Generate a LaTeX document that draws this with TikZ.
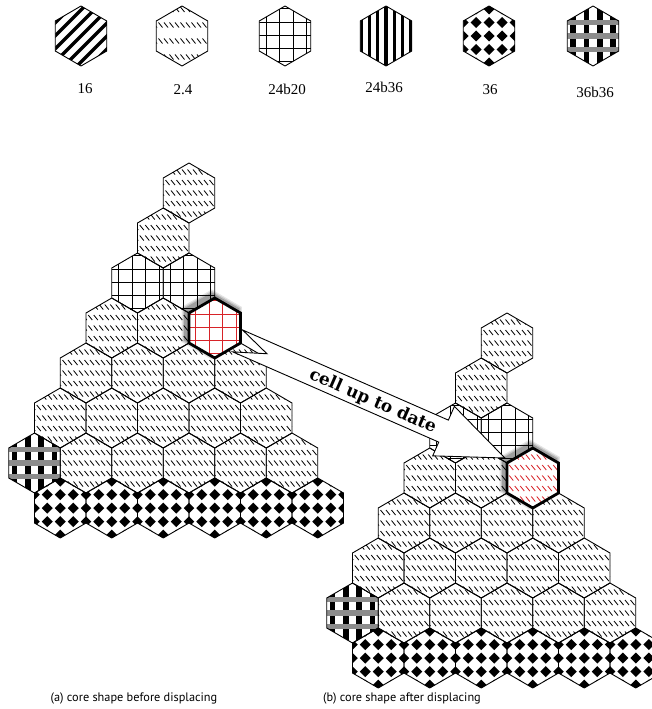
\documentclass[tikz,border=0pt]{standalone}
\usepackage{fontspec}
\setmainfont{Liberation Serif}
\newfontfamily\capfont{PT Sans}
\newfontfamily\arrfont{DejaVu Serif}
\usetikzlibrary{calc}
\definecolor{pred}{RGB}{215,35,40}

% pattern fills, in hexagon-local pixel coordinates (y down)
\newcommand\hexfilldash[1][black]{\foreach \yy in {-21,-10.5,0,10.5,21}{\foreach \xx in {-27,-21.5,...,28}{\draw[#1,line width=0.8pt] (\xx-2,\yy-2.5)--(\xx+2,\yy+2.5);}}}
\newcommand\hexfilldashL{\foreach \yy in {-26.5,-11,5,21}{\foreach \xx in {-27,-21.5,...,28}{\draw[line width=0.8pt] (\xx-2,\yy-2.5)--(\xx+2,\yy+2.5);}}}
\newcommand\hexfillgrid[1][black]{\foreach \xx in {-19,-5.5,8,21.5}{\draw[#1,line width=0.9pt] (\xx,-31)--(\xx,31);}\foreach \yy in {-27.5,-14,-1,12,25}{\draw[#1,line width=0.9pt] (-27,\yy)--(27,\yy);}}
\newcommand\hexfilldiam{\foreach \xx in {-26,-13,0,13,26}{\foreach \yy in {-27,-13.5,0,13.5,27}{\fill (\xx,\yy-5.5)--(\xx+5.5,\yy)--(\xx,\yy+5.5)--(\xx-5.5,\yy)--cycle;}}}
\newcommand\hexfillcheck{\foreach \xx in {-20,-6.7,6.7,20}{\fill (\xx-2.8,-31) rectangle (\xx+2.8,31);}\foreach \yy in {-13.5,0,13.5}{\fill[black!45] (-27,\yy-2.6) rectangle (27,\yy+2.6);}}
\newcommand\hexfilldiag{\foreach \s in {-52,-39,...,52}{\draw[line width=3.2pt] (\s-35,35)--(\s+35,-35);}}
\newcommand\hexfillvert{\foreach \xx in {-24.9,-16.6,...,26}{\fill (\xx-1.6,-31) rectangle (\xx+1.6,31);}}

\newcommand\hexcell[3]{\begin{scope}[shift={(#2,#3)}]\begin{scope}\path[clip,hexpath];\csname hexfill#1\endcsname\end{scope}\draw[hexline,hexpath];\end{scope}}
\newcommand\redcell[2]{\begin{scope}[shift={(#2)}]\fill[white,hexpath];\begin{scope}\path[clip,hexpath];#1\end{scope}\draw[line width=2.8pt,line join=miter,hexpath];\end{scope}}
\newcommand\hexhalo[1]{\begin{scope}[shift={(#1)}]\foreach \sc/\op in {1.17/0.10,1.12/0.14,1.07/0.2}{\fill[black,opacity=\op,shift={(-3,-3.5)},scale=\sc,hexpath];}\end{scope}}

\begin{document}
\begin{tikzpicture}[x=1pt,y=-1pt,
  hexpath/.style={insert path={(0,-30)--(25.75,-15)--(25.75,15)--(0,30)--(-25.75,15)--(-25.75,-15)--cycle}},
  hexline/.style={line width=0.9pt,line join=round},
  lbl/.style={font=\fontsize{15}{15}\selectfont,inner sep=0pt},
  captxt/.style={font=\capfont\fontsize{12.3}{14}\selectfont,inner sep=0pt},
  arrowlbl/.style={font=\arrfont\bfseries\fontsize{17}{17}\selectfont,inner sep=0pt}]
\useasboundingbox (0,0) rectangle (652,709);
\clip (0,0) rectangle (652,709);

% legend
\hexcell{diag}{81}{36}
\hexcell{dashL}{182}{36}
\hexcell{grid}{285}{36}
\hexcell{vert}{386}{36}
\hexcell{diam}{489}{36}
\hexcell{check}{593}{36}
\node[lbl] (l16) at (85,89) {16};
\node[lbl] (l24) at (183,90) {2.4};
\node[lbl] (l2420) at (287,89) {24b20};
\node[lbl] (l2436) at (384,87) {24b36};
\node[lbl] (l36) at (490,90) {36};
\node[lbl] (l3636) at (595,92) {36b36};

% the two core shapes
\foreach \ox/\oy in {0/0,318/150}{
 \foreach \r/\k/\t in {0/0/dash,1/0/dash,2/0/grid,2/1/grid,3/0/dash,3/1/dash,
   4/0/dash,4/1/dash,4/2/dash,4/3/dash,5/0/dash,5/1/dash,5/2/dash,5/3/dash,5/4/dash,
   6/0/check,6/1/dash,6/2/dash,6/3/dash,6/4/dash,6/5/dash,
   7/1/diam,7/2/diam,7/3/diam,7/4/diam,7/5/diam,7/6/diam}{
  \pgfmathsetmacro\px{\ox+189-25.75*\r+51.5*\k}
  \pgfmathsetmacro\py{\oy+193+45*\r}
  \hexcell{\t}{\px}{\py}
 }
}

\coordinate (redA) at (214.75,328);
\coordinate (redB) at (532.75,478);

% block arrow
\begin{scope}[shift={($(redA)+(22.9,12.9)$)},rotate=-23.66]
\draw[fill=white,line width=0.9pt,line join=miter] (0,-12)--(224.8,-12)--(224.8,-27)--(291.8,0)--(224.8,27)--(224.8,12)--(0,12)--(32,0)--cycle;
\node[arrowlbl,rotate=-23.66] (alab) at (148,1) {cell up to date};
\end{scope}

% highlighted cells
\hexhalo{redA}
\hexhalo{redB}
\redcell{\hexfillgrid[pred]}{redA}
\redcell{\hexfilldash[pred]}{redB}

% captions
\node[captxt] (capa) at (134,698) {(a) core shape before displacing};
\node[captxt] (capb) at (402,698) {(b) core shape after displacing};
\end{tikzpicture}
\end{document}
